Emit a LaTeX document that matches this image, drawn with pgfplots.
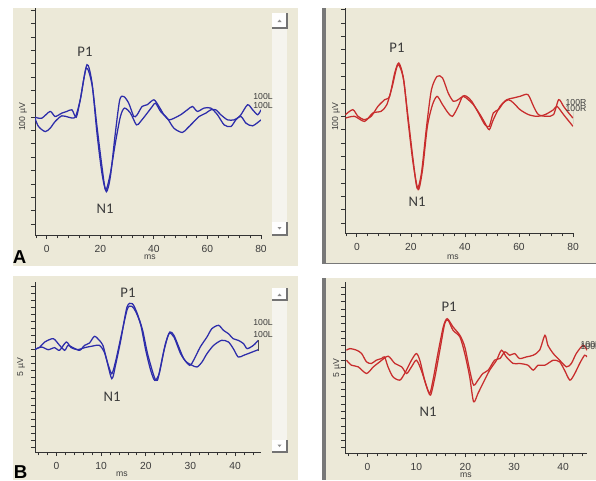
\documentclass[border=0pt]{standalone}
\usepackage{pgfplots}
\pgfplotsset{compat=1.18}
\usepackage{fontspec}
\setmainfont{Liberation Sans}
\newfontfamily\carl{Carlito}
\definecolor{beige}{RGB}{236,233,216}
\definecolor{track}{RGB}{245,244,238}
\definecolor{trblue}{RGB}{45,45,170}
\definecolor{trred}{RGB}{200,45,45}
\definecolor{txt}{RGB}{60,60,60}
\definecolor{frame}{RGB}{120,120,120}

\pgfplotsset{
 eeg/.style={
  scale only axis, anchor=south west,
  axis x line*=bottom, axis y line*=left,
  axis line style={black!80, line width=0.6pt, -},
  tick style={black!80, line width=0.6pt},
  major tick length=3pt, minor tick length=2.5pt,
  tick align=outside,
  yticklabels={},
  xticklabel style={font=\fontsize{7.7}{8}\selectfont, text=txt, yshift=-1pt},
  /pgf/number format/assume math mode=true,
  every axis plot/.append style={line width=0.95pt, smooth, tension=0.45},
 }
}

\begin{document}
\begin{tikzpicture}[x=0.75pt,y=0.75pt]
\path[use as bounding box] (0,0) rectangle (596,480);
\fill[white] (0,0) rectangle (596,480);
% panels
\fill[beige] (13,214) rectangle (298,472);
\fill[beige] (322,216) rectangle (596,472);
\fill[frame] (322,216) rectangle (326,472);
\fill[frame] (322,216) rectangle (596,217.5);
\fill[beige] (13,0) rectangle (298,204);
\fill[beige] (322,0) rectangle (596,202);
\fill[frame] (322,0) rectangle (326,202);
% scrollbars
\fill[track] (272,245) rectangle (287,467);
\fill[track] (272,28) rectangle (287,192);
\foreach \ya/\yb in {452/467, 245/258, 180/192, 28/40}{
  \fill[white!97!beige] (272,\ya) rectangle (287,\yb);
  \draw[black!55, line width=0.8pt] (272,\ya) -- (287,\ya) -- (287,\yb);
}
\foreach \yc in {459.5, 185.5}{\fill[black!45] (277.5,\yc-1.5) -- (281.5,\yc-1.5) -- (279.5,\yc+1) -- cycle;}
\foreach \yc in {251.5, 34}{\fill[black!45] (277.5,\yc+1.5) -- (281.5,\yc+1.5) -- (279.5,\yc-1) -- cycle;}

% ---------- A left ----------
\begin{axis}[eeg, at={(26.25pt,183.75pt)}, width=169.5pt, height=170.25pt,
  xmin=-4.4, xmax=80, ymin=-8.825, ymax=8.175,
  xtick={0,20,...,80}, minor xtick={-4,0,...,80}, ytick={-8,...,8}]
\addplot[trblue] coordinates {(-4.4,0)(-1.9,-0.08)(1.25,0.43)(3.1,0.05)(5.6,0.3)(7.5,0.43)(9.4,0.55)(11,0)(12.5,1.3)(15,3.93)(16.9,2.55)(18.75,-1.2)(20.6,-4.2)(22.25,-5.58)(23.75,-4.45)(25.6,-1.2)(27.25,1.3)(28.75,1.55)(30.6,1.05)(32.5,0.05)(33.75,0.18)(35.6,0.8)(37.5,0.93)(40,1.3)(41.9,0.8)(43.75,0.18)(45.6,-0.2)(47.5,-0.08)(50,0.18)(52.5,0.55)(54.4,0.8)(56.25,0.43)(58.75,0.68)(61.25,0.68)(63.75,0.18)(66.25,-0.58)(68.75,-0.7)(70.6,-0.2)(72.5,0.18)(75,0.93)(76.9,0.55)(78.75,0.18)(80,0.55)};
\addplot[trblue] coordinates {(-4.4,-0.08)(-3.1,-0.7)(-0.6,-1.08)(1.25,-0.83)(3.1,-0.33)(5.6,0.1)(8.1,0)(10.6,0)(12.5,1.3)(14.75,3.68)(16.9,2.43)(18.75,-0.7)(20.6,-3.7)(22,-5.45)(23.75,-4.2)(25.6,-1.95)(27.5,0.05)(29,0.68)(31.25,0.3)(33.5,-0.58)(35,-0.33)(37.5,0.3)(39.4,0.8)(40.6,1.05)(42.5,0.43)(45,-0.08)(47.5,-0.83)(50.6,-1.15)(52.5,-0.83)(54.4,-0.45)(56.9,0.05)(59.4,0.3)(61.25,0.55)(63.1,0.55)(65,0.18)(67.5,-0.2)(70,-0.2)(72.5,0.05)(74.4,-0.45)(76.9,-0.65)(80,-0.2)};
\draw[black!70, line width=0.6pt] (axis cs:80,0.45) -- (axis cs:80,-0.2);
\end{axis}

% ---------- A right ----------
\begin{axis}[eeg, at={(258.75pt,185.25pt)}, width=171pt, height=168.75pt,
  xmin=-4.4, xmax=80, ymin=-8.75, ymax=8.125,
  xtick={0,20,...,80}, minor xtick={-4,0,...,80}, ytick={-8,...,8}]
\addplot[trred] coordinates {(-4.2,0.13)(-1.5,0.5)(0.4,0)(2.85,-0.25)(5.3,0)(7.8,0.75)(10.3,1.25)(12.1,1.5)(14,3.25)(15.5,4)(17.1,3)(18.9,0)(20.8,-3.25)(22.3,-5.38)(23.9,-4.25)(25.8,-0.75)(27.6,2)(29.7,3)(31.7,2.88)(33.8,1.75)(35.7,1.13)(37.5,1.25)(39.4,1.5)(41.2,1.25)(43.1,0.88)(45.6,0.13)(47.4,-0.5)(49,-1)(50.5,-0.25)(53,0.75)(55.5,1.25)(58,1.38)(60.4,1.5)(63.3,1.63)(65.4,0.75)(67.2,0.13)(70.3,0)(72.8,0.13)(74.7,1.25)(76.5,0.75)(78.4,0.25)(80,-0.13)};
\addplot[trred] coordinates {(-4.2,-0.13)(-0.9,0)(2.85,-0.38)(5.9,0.25)(9,0.38)(11.1,0.88)(13.1,2.25)(15.2,3.88)(17.3,2.75)(18.9,-0.25)(20.8,-3.5)(22.7,-5.5)(24.3,-4)(26.1,-0.75)(28,0.88)(29.7,1.5)(31.7,0.88)(33.8,0.25)(35.4,0)(37.5,0.75)(39.1,1.5)(40.6,1.5)(42.5,1.13)(45,0.25)(47.4,-0.63)(49,-0.75)(50.5,0.25)(52.4,0.5)(54.2,1)(56.1,1.25)(58,1)(60.4,0.5)(63.5,0.13)(66.6,0)(69.7,0.13)(72.8,0.5)(74.1,0.75)(76.5,0.13)(80,-0.75)};
\draw[black!70, line width=0.6pt] (axis cs:80,0.5) -- (axis cs:80,-0.6);
\end{axis}

% ---------- B left ----------
\begin{axis}[eeg, at={(26.25pt,21pt)}, width=169.5pt, height=127.5pt,
  xmin=-4.8, xmax=45.8, ymin=-14.67, ymax=9.62,
  xtick={0,10,...,40}, minor xtick={-4,-2,...,44}, ytick={-14,...,9}]
\addplot[trblue] coordinates {(-4.8,0)(-3.7,0.33)(-2.6,1.05)(-0.7,1.52)(0.7,0.57)(1.85,-0.14)(2.6,0.57)(3.7,0.24)(5.2,-0.14)(6.3,0.57)(7.4,0.9)(8.5,1.86)(9.6,1.29)(10.4,0.57)(11.1,-1.1)(12.4,-4.19)(13.3,-2.05)(14.4,1.29)(15.8,6.05)(17,6.52)(18.1,5.1)(19.3,2.71)(20.4,-0.62)(21.9,-3.95)(22.6,-4.43)(23.3,-2.52)(24.4,0.81)(25.4,2.48)(26.3,2)(27.4,0.33)(28.5,-1.33)(29.85,-2.29)(30.7,-1.57)(32.2,0.33)(33.7,1.76)(34.8,2.95)(36.3,3.43)(37.4,2.71)(38.5,2.24)(39.6,1.52)(40.7,1.29)(41.9,0.81)(42.7,0.1)(44.1,0.57)(45.2,1.29)};
\addplot[trblue] coordinates {(-4.8,0)(-3.3,0.33)(-1.85,-0.05)(-0.4,0.24)(0.7,-0.14)(2.2,1.05)(3.3,0.24)(4.8,-0.05)(6.3,0.24)(7.8,0.43)(9.6,0.57)(10.7,-0.38)(11.5,-2.05)(12.4,-3.48)(13.3,-1.57)(14.6,2.24)(15.9,5.81)(16.9,6.14)(17.8,5.33)(18.9,3.43)(20,-0.14)(21.1,-3)(22,-4.43)(23,-3.48)(24.1,-0.14)(25.2,2.24)(26.3,1.76)(27.8,-0.62)(29.1,-1.81)(30.4,-2.29)(31.5,-2.52)(32.6,-1.81)(33.7,-0.62)(35.2,0.57)(37,1.29)(38.5,1.05)(39.6,0.1)(40.7,-1.1)(41.9,-0.86)(43.3,-0.52)(45.2,-0.05)};
\draw[black!70, line width=0.6pt] (axis cs:45.2,1.3) -- (axis cs:45.2,-0.2);
\end{axis}

% ---------- B right ----------
\begin{axis}[eeg, at={(258.75pt,20.25pt)}, width=181.5pt, height=128.25pt,
  xmin=-4.6, xmax=44.9, ymin=-12.7, ymax=10.7,
  xtick={0,10,...,40}, minor xtick={-4,-2,...,44}, ytick={-12,...,10}]
\addplot[trred] coordinates {(-4.3,1.36)(-3.6,1.59)(-2.2,1.36)(-1.2,0.91)(-0.2,-0.23)(0.8,-0.45)(1.8,0)(2.9,0.23)(3.5,0.45)(4.2,-0.91)(5.2,-2.27)(6.6,-2.73)(7.6,-1.82)(9,0)(10,0.91)(10.7,0)(11.7,-2.73)(12.7,-4.55)(13.4,-2.73)(14.4,0.91)(15.5,4.55)(16.3,5.68)(17.5,4.55)(18.9,3.41)(19.9,1.82)(20.9,-1.36)(21.7,-3.41)(22.6,-2.73)(23.6,-1.82)(24.7,-1.36)(26,0)(27.1,0.23)(28.1,1.14)(29.1,0.68)(30.1,0.91)(31.1,0.23)(32.5,0.45)(33.9,0.68)(35.2,1.36)(36.3,3.41)(36.9,2.05)(38,0.91)(39.3,0)(40.7,-0.91)(41.7,-0.45)(42.7,0.91)(44.1,2.05)(44.9,1.36)};
\addplot[trred] coordinates {(-4.3,0)(-3.3,-0.68)(-1.9,-0.91)(-0.2,-1.82)(1.2,-0.91)(2.5,-0.23)(4.2,0.55)(5.6,-0.45)(7,-0.91)(8,-1.82)(9,-0.91)(10,0)(11,-1.36)(12.1,-3.64)(12.9,-4.77)(13.8,-2.27)(14.8,1.36)(15.8,5)(16.5,5.45)(17.5,4.09)(18.9,3.18)(19.9,0.91)(20.9,-2.27)(21.7,-5.68)(22.6,-4.55)(23.6,-3.18)(25,-1.36)(26.4,0)(27.4,1.36)(28.4,0.45)(29.8,-0.45)(31.1,-0.45)(32.8,-0.68)(33.9,-1.36)(34.9,-0.68)(36.3,-0.68)(38,0)(39.3,-0.23)(40.3,-1.36)(41.4,-2.73)(42.4,-1.82)(43.4,-0.45)(44.4,0.68)(44.9,0.45)};
\end{axis}

% ---------- texts ----------
\begin{scope}[every node/.style={inner sep=0pt}]
\node[text=txt, font=\carl\fontsize{11}{12}\selectfont] at (85,428) {P1};
\node[text=txt, font=\carl\fontsize{11}{12}\selectfont] at (105,271) {N1};
\node[text=txt, font=\carl\fontsize{11}{12}\selectfont] at (397,432) {P1};
\node[text=txt, font=\carl\fontsize{11}{12}\selectfont] at (417,278) {N1};
\node[text=txt, font=\carl\fontsize{11}{12}\selectfont] at (128,187) {P1};
\node[text=txt, font=\carl\fontsize{11}{12}\selectfont] at (112,83) {N1};
\node[text=txt, font=\carl\fontsize{11}{12}\selectfont] at (449,173) {P1};
\node[text=txt, font=\carl\fontsize{11}{12}\selectfont] at (428,68) {N1};
\node[font=\bfseries\fontsize{14}{14}\selectfont] at (19.5,222.5) {A};
\node[font=\bfseries\fontsize{14}{14}\selectfont] at (20.5,7.5) {B};
\foreach \p in {(150,223),(453,223),(122,5.5),(466,5)}{\node[text=txt, font=\fontsize{6.5}{7}\selectfont] at \p {ms};}
\node[text=txt, rotate=90, font=\fontsize{6.5}{7}\selectfont] at (23,363) {100 µV};
\node[text=txt, rotate=90, font=\fontsize{6.5}{7}\selectfont] at (336,363) {100 µV};
\node[text=txt, rotate=90, font=\fontsize{6.5}{7}\selectfont] at (21,113) {5 µV};
\node[text=txt, rotate=90, font=\fontsize{6.5}{7}\selectfont] at (337,112) {5 µV};
\node[text=txt, font=\fontsize{6.5}{7}\selectfont] at (263,383) {100L};
\node[text=txt, font=\fontsize{6.5}{7}\selectfont] at (263,374) {100L};
\node[text=txt, font=\fontsize{6.5}{7}\selectfont] at (263,157) {100L};
\node[text=txt, font=\fontsize{6.5}{7}\selectfont] at (263,145) {100L};
\node[text=txt, font=\fontsize{6.5}{7}\selectfont] at (576,377) {100R};
\node[text=txt, font=\fontsize{6.5}{7}\selectfont] at (576,371) {100R};
\node[text=txt, font=\fontsize{6.5}{7}\selectfont] at (591,135) {100R};
\node[text=txt, font=\fontsize{6.5}{7}\selectfont] at (591,133) {100R};
\end{scope}
\end{tikzpicture}
\end{document}
